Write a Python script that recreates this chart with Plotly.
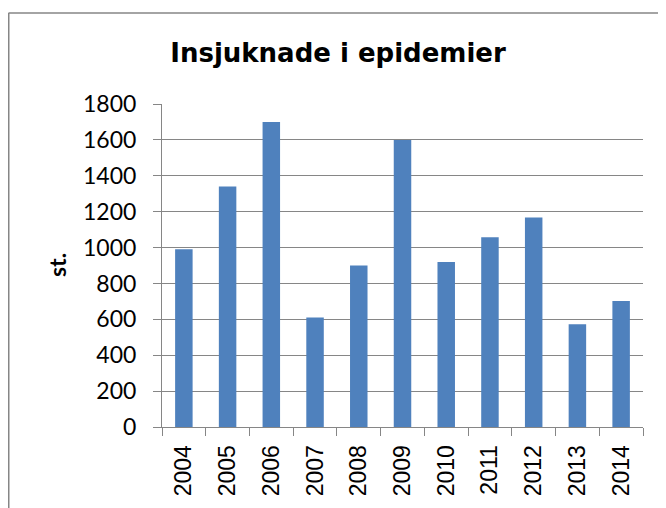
import plotly.graph_objects as go

years = ["2004", "2005", "2006", "2007", "2008", "2009", "2010", "2011", "2012", "2013", "2014"]
cases = [990, 1340, 1700, 610, 900, 1600, 920, 1058, 1168, 572, 702]
y_ticks = [0, 200, 400, 600, 800, 1000, 1200, 1400, 1600, 1800]

# page body has an 8px margin; figure pixel = reference pixel - O
O = 8
W, H = 666 - O, 508 - O
L, T = 162 - O, 104 - O
R, B = 666 - 643, 508 - 427
pw, ph = W - L - R, H - T - B

def px_to_paper_x(px):
    return (px - O - L) / pw

def py_to_paper_y(py):
    return (H - B - (py - O)) / ph

fig = go.Figure()
fig.add_trace(go.Bar(
    x=years, y=cases,
    marker=dict(color="#4F81BD", line=dict(color="#4F81BD", width=0)),
    width=0.4,
))

grid = "#868686"
fig.update_layout(
    width=W, height=H,
    margin=dict(l=L, r=R, t=T, b=B),
    paper_bgcolor="white", plot_bgcolor="white",
    showlegend=False,
    title=dict(text="<b>Insjuknade i epidemier</b>", x=(338 - O) / W, xanchor="center",
               y=1 - (53 - O) / H, yanchor="middle",
               font=dict(family="DejaVu Sans", size=26, color="black")),
    xaxis=dict(type="category", tickson="boundaries", ticks="outside", ticklen=8,
               tickcolor=grid, tickwidth=1, showline=True, linecolor=grid, linewidth=1,
               showgrid=False, tickangle=-90, ticklabelstandoff=8,
               tickfont=dict(family="Liberation Sans, Arial", size=23, color="black")),
    yaxis=dict(range=[0, 1800], tickvals=y_ticks, ticks="outside", ticklen=8,
               tickcolor=grid, tickwidth=1, showline=True, linecolor=grid, linewidth=1,
               showgrid=True, gridcolor=grid, gridwidth=1, zeroline=False,
               ticklabelstandoff=12,
               tickfont=dict(family="Lato", size=23, color="black")),
    annotations=[dict(text="<b>st.</b>", textangle=-90, x=px_to_paper_x(57), y=py_to_paper_y(265),
                      xref="paper", yref="paper", xanchor="center", yanchor="middle",
                      showarrow=False,
                      font=dict(family="Lato", size=23, color="black"))],
    shapes=[
        dict(type="line", xref="paper", yref="paper",
             x0=px_to_paper_x(8.5), x1=px_to_paper_x(8.5), y0=py_to_paper_y(13), y1=py_to_paper_y(520),
             line=dict(color=grid, width=2)),
        dict(type="line", xref="paper", yref="paper",
             x0=px_to_paper_x(8.5), x1=px_to_paper_x(680), y0=py_to_paper_y(13), y1=py_to_paper_y(13),
             line=dict(color=grid, width=1.5)),
    ],
)

fig.write_html("out.html")
